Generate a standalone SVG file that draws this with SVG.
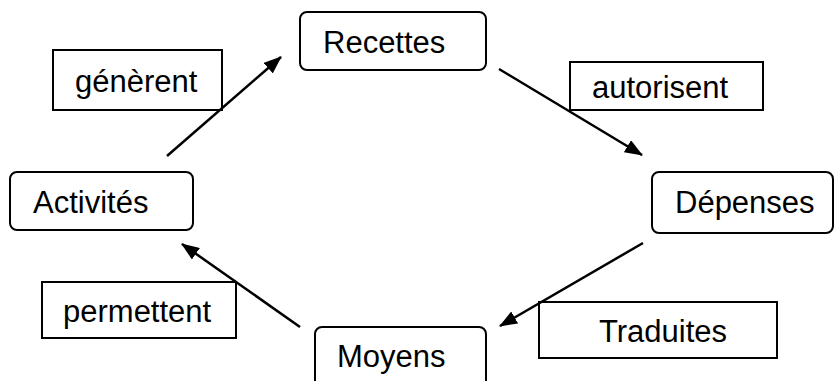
<svg xmlns="http://www.w3.org/2000/svg" width="840" height="381" viewBox="0 0 840 381">
  <style>
    .node rect { fill: #fff; stroke: #000; stroke-width: 2; }
    .label rect { fill: #fff; stroke: #000; stroke-width: 2; }
    text { font-family: "Liberation Sans", Arial, sans-serif; font-size: 31px; fill: #000; }
    .edge { stroke: #000; stroke-width: 2.5; fill: none; marker-end: url(#arrow); }
  </style>
  <defs>
    <marker id="arrow" markerUnits="userSpaceOnUse" markerWidth="18" markerHeight="14" refX="17" refY="7" orient="auto">
      <path d="M0,0 L18,7 L0,14 z" fill="#000"/>
    </marker>
  </defs>
  <rect width="840" height="381" fill="#fff"/>

  <!-- relation labels -->
  <g id="label-generent" class="label">
    <rect x="53" y="50" width="169" height="60"/>
    <text x="75" y="92">génèrent</text>
  </g>
  <g id="label-autorisent" class="label">
    <rect x="570" y="62" width="193" height="48"/>
    <text x="592" y="98">autorisent</text>
  </g>
  <g id="label-traduites" class="label">
    <rect x="539" y="302" width="238" height="56"/>
    <text x="599" y="342">Traduites</text>
  </g>
  <g id="label-permettent" class="label">
    <rect x="42" y="282" width="194" height="56"/>
    <text x="63" y="322">permettent</text>
  </g>

  <!-- connectors -->
  <g id="connectors">
    <line class="edge" x1="167" y1="156" x2="281" y2="57"/>
    <line class="edge" x1="499" y1="69" x2="642" y2="155"/>
    <line class="edge" x1="643" y1="243" x2="500" y2="326"/>
    <line class="edge" x1="300" y1="327" x2="182" y2="244"/>
  </g>

  <!-- nodes -->
  <g id="node-recettes" class="node">
    <rect x="300" y="12" width="186" height="58" rx="7"/>
    <text x="323" y="53">Recettes</text>
  </g>
  <g id="node-depenses" class="node">
    <rect x="652" y="172" width="181" height="61" rx="7"/>
    <text x="675" y="213">Dépenses</text>
  </g>
  <g id="node-moyens" class="node">
    <rect x="315" y="327" width="171" height="62" rx="7"/>
    <text x="337" y="367">Moyens</text>
  </g>
  <g id="node-activites" class="node">
    <rect x="10" y="172" width="183" height="58" rx="7"/>
    <text x="33" y="213">Activités</text>
  </g>
</svg>
